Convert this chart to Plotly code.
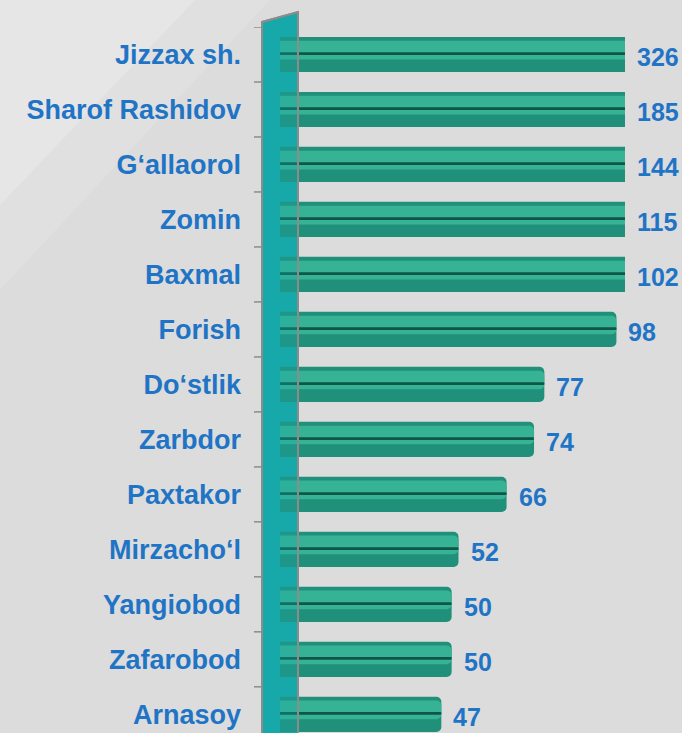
import plotly.graph_objects as go

# District figures (top to bottom)
districts = ["Jizzax sh.", "Sharof Rashidov", "G‘allaorol", "Zomin", "Baxmal", "Forish",
             "Do‘stlik", "Zarbdor", "Paxtakor", "Mirzacho‘l", "Yangiobod", "Zafarobod", "Arnasoy"]
values = [326, 185, 144, 115, 102, 98, 77, 74, 66, 52, 50, 50, 47]

X_MAX = 100.5          # value axis is cut here; longer bars are clipped
LABEL_BLUE = "#1F74C6"
FONT = "Liberation Sans, Arial, sans-serif"

W, H = 682, 733
L, R, T, B = 280, 57, 27, 0
PW, PH = W - L - R, H - T - B


def px(x):
    return (x - L) / PW


def py(y):
    return (H - y) / PH


rows = list(range(len(districts)))


def band(width, offset, color):
    return go.Bar(x=values, y=rows, orientation="h", width=width, offset=offset,
                  marker=dict(color=color, line=dict(width=0)),
                  hoverinfo="skip", showlegend=False)


fig = go.Figure()
# cylinder body with a lit band across its upper middle
fig.add_trace(band(0.64, -0.32, "#21907A"))
fig.add_trace(band(0.34, -0.25, "#36B395"))
# dark seam along the cylinder
fig.add_trace(band(0.05, -0.04, "#0F5646"))

# value labels at the visible end of each bar
for i, v in enumerate(values):
    fig.add_annotation(x=min(v, X_MAX), y=i, text=f"<b>{v}</b>", showarrow=False,
                       xanchor="left", yanchor="middle", xshift=10, yshift=-3,
                       font=dict(family=FONT, size=25, color=LABEL_BLUE))

wall_path = (f"M {px(262)},{py(22)} L {px(298)},{py(12)} "
             f"L {px(298)},{py(740)} L {px(262)},{py(740)} Z")

shapes = []
# soft light sweep in the upper-left background
shapes.append(dict(type="path", xref="paper", yref="paper", layer="below",
                   path=f"M {px(0)},{py(0)} L {px(270)},{py(0)} L {px(0)},{py(290)} Z",
                   fillcolor="rgba(255,255,255,0.12)", line=dict(width=0)))
shapes.append(dict(type="path", xref="paper", yref="paper", layer="below",
                   path=f"M {px(0)},{py(0)} L {px(195)},{py(0)} L {px(0)},{py(205)} Z",
                   fillcolor="rgba(255,255,255,0.2)", line=dict(width=0)))
# back wall of the 3D frame, with a translucent pane over the bar roots
shapes.append(dict(type="path", xref="paper", yref="paper", layer="below",
                   path=wall_path, fillcolor="#17AAAA", line=dict(color="#8C8C8C", width=2)))
shapes.append(dict(type="path", xref="paper", yref="paper", layer="above",
                   path=wall_path, fillcolor="rgba(23,170,170,0.3)",
                   line=dict(color="#8C8C8C", width=2)))
# category tick marks on the wall edge
for k in range(len(districts) + 1):
    shapes.append(dict(type="line", xref="paper", yref="y", layer="below",
                       x0=px(254), x1=px(262), y0=k - 0.5, y1=k - 0.5,
                       line=dict(color="#8C8C8C", width=1.5)))

fig.update_layout(
    width=W, height=H,
    margin=dict(l=L, r=R, t=T, b=B, pad=0),
    paper_bgcolor="#DCDCDC", plot_bgcolor="rgba(0,0,0,0)",
    barmode="overlay", barcornerradius=5,
    shapes=shapes,
    xaxis=dict(range=[0, X_MAX], visible=False, showgrid=False, zeroline=False),
    yaxis=dict(range=[12.34, -0.5], tickmode="array", tickvals=rows,
               ticktext=[f"<b>{d}</b>" for d in districts],
               tickfont=dict(family=FONT, size=27, color=LABEL_BLUE),
               ticks="", showgrid=False, zeroline=False, showline=False,
               ticklabelstandoff=38),
    font=dict(family=FONT),
)

fig.write_html("out.html")
